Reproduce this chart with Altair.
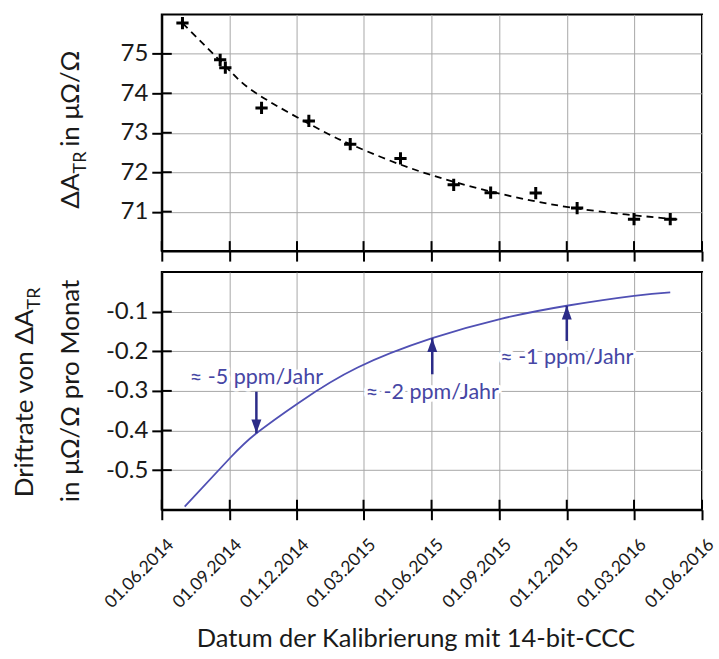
import altair as alt
import pandas as pd

FONT = "Lato"

# ---------------- data ----------------
tick_dates = ["2014-06-01", "2014-09-01", "2014-12-01", "2015-03-01", "2015-06-01",
              "2015-09-01", "2015-12-01", "2016-03-01", "2016-06-01"]
top_ticks = [71, 72, 73, 74, 75]
bottom_ticks = [-0.5, -0.4, -0.3, -0.2, -0.1]

meas_dates = ["2014-06-29", "2014-08-19", "2014-08-26", "2014-10-14", "2014-12-17",
              "2015-02-11", "2015-04-20", "2015-07-01", "2015-08-20", "2015-10-20",
              "2015-12-15", "2016-03-01", "2016-04-19"]
meas_values = [75.78, 74.85, 74.65, 73.63, 73.30, 72.71, 72.35, 71.68, 71.48, 71.47,
               71.09, 70.81, 70.81]

fit_dates = ["2014-06-29", "2014-08-28", "2014-10-11", "2014-12-31", "2015-02-10",
             "2015-04-05", "2015-06-02", "2015-08-05", "2015-10-07", "2015-12-08",
             "2016-02-19", "2016-05-01"]
fit_values = [75.78, 74.65, 73.95, 73.09, 72.72, 72.30, 71.92, 71.58, 71.31, 71.10,
              70.93, 70.80]

drift_dates = ["2014-07-02", "2014-09-01", "2014-10-07", "2014-12-04", "2015-02-21",
               "2015-06-02", "2015-09-03", "2015-12-01", "2016-03-01", "2016-04-19"]
drift_values = [-0.592, -0.470, -0.407, -0.329, -0.241, -0.167, -0.118, -0.085,
                -0.060, -0.051]

ann_labels = ["≈ -5 ppm/Jahr", "≈ -2 ppm/Jahr", "≈ -1 ppm/Jahr"]
ann_dates = ["2014-10-07", "2015-06-02", "2015-12-01"]
ann_text_values = [-0.268, -0.306, -0.218]
arrow_tail_values = [-0.302, -0.258, -0.174]
arrow_tip_values = [-0.407, -0.167, -0.085]
arrow_dir = ["down", "up", "up"]

x_title = "Datum der Kalibrierung mit 14-bit-CCC"

# ---------------- styles ----------------
W, H1, H2 = 541, 237, 238
LINE_BLUE = "#5050b4"
ARROW_BLUE = "#2c2c88"
TEXT_BLUE = "#4646a4"
INK = "#1a1a1a"
CROSS = "M-1,0L1,0M0,-1L0,1"
DOWN_HEAD = "M0,0L-0.8,-2.2L0.8,-2.2Z"
UP_HEAD = "M0,0L-0.8,2.2L0.8,2.2Z"


def dt(s):
    y, m, d = (int(v) for v in s.split("-"))
    return alt.DateTime(year=y, month=m, date=d, utc=True)


tick_values = [dt(s) for s in tick_dates]
x_scale = alt.Scale(type="utc", domain=[dt(tick_dates[0]), dt(tick_dates[-1])])


def x_enc(labels):
    if labels:
        axis = alt.Axis(values=tick_values, labelExpr="utcFormat(datum.value, '%d.%m.%Y')",
                        labelAngle=315, labelAlign="right", labelBaseline="middle",
                        labelFontSize=17.5, labelPadding=22, labelOffset=9,
                        labelFlush=False, labelOverlap=False, grid=True,
                        title=x_title, titleFontSize=25.5, titleFontWeight="normal",
                        titleColor=INK, titleX=254, titleY=129, titleBaseline="middle")
    else:
        axis = alt.Axis(values=tick_values, labels=False, title=None, labelFlush=False,
                        grid=True)
    return alt.X("date:T", scale=x_scale, axis=axis)


def y_enc(field, domain, ticks, expr=None):
    kw = dict(values=ticks, title=None, labelFontSize=24, labelPadding=4, labelFlush=False,
              grid=True)
    if expr:
        kw["labelExpr"] = expr
    return alt.Y(f"{field}:Q", scale=alt.Scale(domain=domain, nice=False, zero=False),
                 axis=alt.Axis(**kw))


def title_piece(text, size, x, y, dx, dy, align):
    return alt.Chart(pd.DataFrame({"t": [text]})).mark_text(
        angle=270, align=align, baseline="middle", fontSize=size, font=FONT,
        dx=dx, dy=dy, color=INK).encode(x=alt.value(x), y=alt.value(y), text="t:N")


# ---------------- top panel ----------------
TOP_DOM = [70, 76]
xt = x_enc(False)
yt = lambda f="value": y_enc(f, TOP_DOM, top_ticks)

fit = alt.Chart(pd.DataFrame({"date": fit_dates, "value": fit_values})).mark_line(
    color="black", strokeDash=[7, 5], strokeWidth=1.8, interpolate="natural"
).encode(x=xt, y=yt())

pts = alt.Chart(pd.DataFrame({"date": meas_dates, "value": meas_values})).mark_point(
    shape=CROSS, size=150, filled=False, color="black", strokeWidth=3, opacity=1
).encode(x=xt, y=yt())

tx_in_top = alt.Chart(pd.DataFrame({"date": tick_dates})).mark_rule(
    color="black", strokeWidth=2).encode(x=xt, y=alt.value(H1 - 10), y2=alt.value(H1))
ty_in_top = alt.Chart(pd.DataFrame({"value": top_ticks})).mark_rule(
    color="black", strokeWidth=2).encode(y=yt(), x=alt.value(0), x2=alt.value(10))

T1, S1 = 26, 18
w_dA = (0.66 + 0.68) * T1
w_TR = (0.57 + 0.62) * S1
w_rest = 3.45 * T1
sp = 0.2 * T1
Wt = w_dA + w_TR + sp + w_rest
cy1 = H1 / 2
top_title = [
    title_piece("ΔA", T1, -91, cy1, w_dA - Wt / 2, 0, "right"),
    title_piece("TR", S1, -91, cy1, w_dA - Wt / 2, 10, "left"),
    title_piece("in μΩ/Ω", T1, -91, cy1, w_dA + w_TR + sp - Wt / 2, 0, "left"),
]

top = alt.layer(fit, pts, tx_in_top, ty_in_top, *top_title).properties(width=W, height=H1)

# ---------------- bottom panel ----------------
BOT_DOM = [-0.6, 0]
xb = x_enc(True)
yb = lambda f="value": y_enc(f, BOT_DOM, bottom_ticks, "datum.value + ''")

drift = alt.Chart(pd.DataFrame({"date": drift_dates, "value": drift_values})).mark_line(
    color=LINE_BLUE, strokeWidth=1.8, interpolate="natural"
).encode(x=xb, y=yb())

ann_df = pd.DataFrame({"label": ann_labels, "date": ann_dates, "text_value": ann_text_values,
                       "tail": arrow_tail_values, "tip": arrow_tip_values, "dir": arrow_dir})

arrows = alt.Chart(ann_df).mark_rule(color=ARROW_BLUE, strokeWidth=2.5).encode(
    x=xb, y=yb("tail"), y2="tip:Q")
heads = alt.Chart(ann_df).mark_point(filled=True, size=155, opacity=1, color=ARROW_BLUE,
                                     strokeWidth=0).encode(
    x=xb, y=yb("tip"),
    shape=alt.Shape("dir:N", scale=alt.Scale(domain=["down", "up"], range=[DOWN_HEAD, UP_HEAD]),
                    legend=None))
halo = alt.Chart(ann_df).mark_text(fontSize=21.5, font=FONT, color="white", stroke="white",
                                   strokeWidth=7, strokeJoin="round").encode(
    x=xb, y=yb("text_value"), text="label:N")
labels = alt.Chart(ann_df).mark_text(fontSize=21.5, font=FONT, color=TEXT_BLUE).encode(
    x=xb, y=yb("text_value"), text="label:N")

tx_in_bot = alt.Chart(pd.DataFrame({"date": tick_dates})).mark_rule(
    color="black", strokeWidth=2).encode(x=xb, y=alt.value(H2 - 10), y2=alt.value(H2))
ty_in_bot = alt.Chart(pd.DataFrame({"value": bottom_ticks})).mark_rule(
    color="black", strokeWidth=2).encode(y=yb(), x=alt.value(0), x2=alt.value(10))

w_line1 = 7.10 * T1
Wb1 = w_line1 + w_TR
cy2 = H2 / 2
bottom_title = [
    title_piece("Driftrate von ΔA", T1, -137, cy2, w_line1 - Wb1 / 2, 0, "right"),
    title_piece("TR", S1, -137, cy2, w_line1 - Wb1 / 2, 10, "left"),
    title_piece("in μΩ/Ω pro Monat", T1, -91, cy2, 0, 0, "center"),
]

bottom = alt.layer(drift, halo, labels, arrows, heads, tx_in_bot, ty_in_bot,
                   *bottom_title).properties(width=W, height=H2)

chart = alt.vconcat(top, bottom, spacing=8).properties(
    padding={"left": 11, "top": 9, "right": 0, "bottom": 0},
    background="white",
).configure(font=FONT).configure_view(
    stroke="black", strokeWidth=2
).configure_axis(
    domainColor="black", domainWidth=2, tickColor="black", tickWidth=2, tickSize=10,
    gridColor="#a8a8a8", gridWidth=1, labelColor=INK, labelFont=FONT, titleFont=FONT
)

chart.save("out.html", embed_options={"renderer": "svg", "actions": False})
